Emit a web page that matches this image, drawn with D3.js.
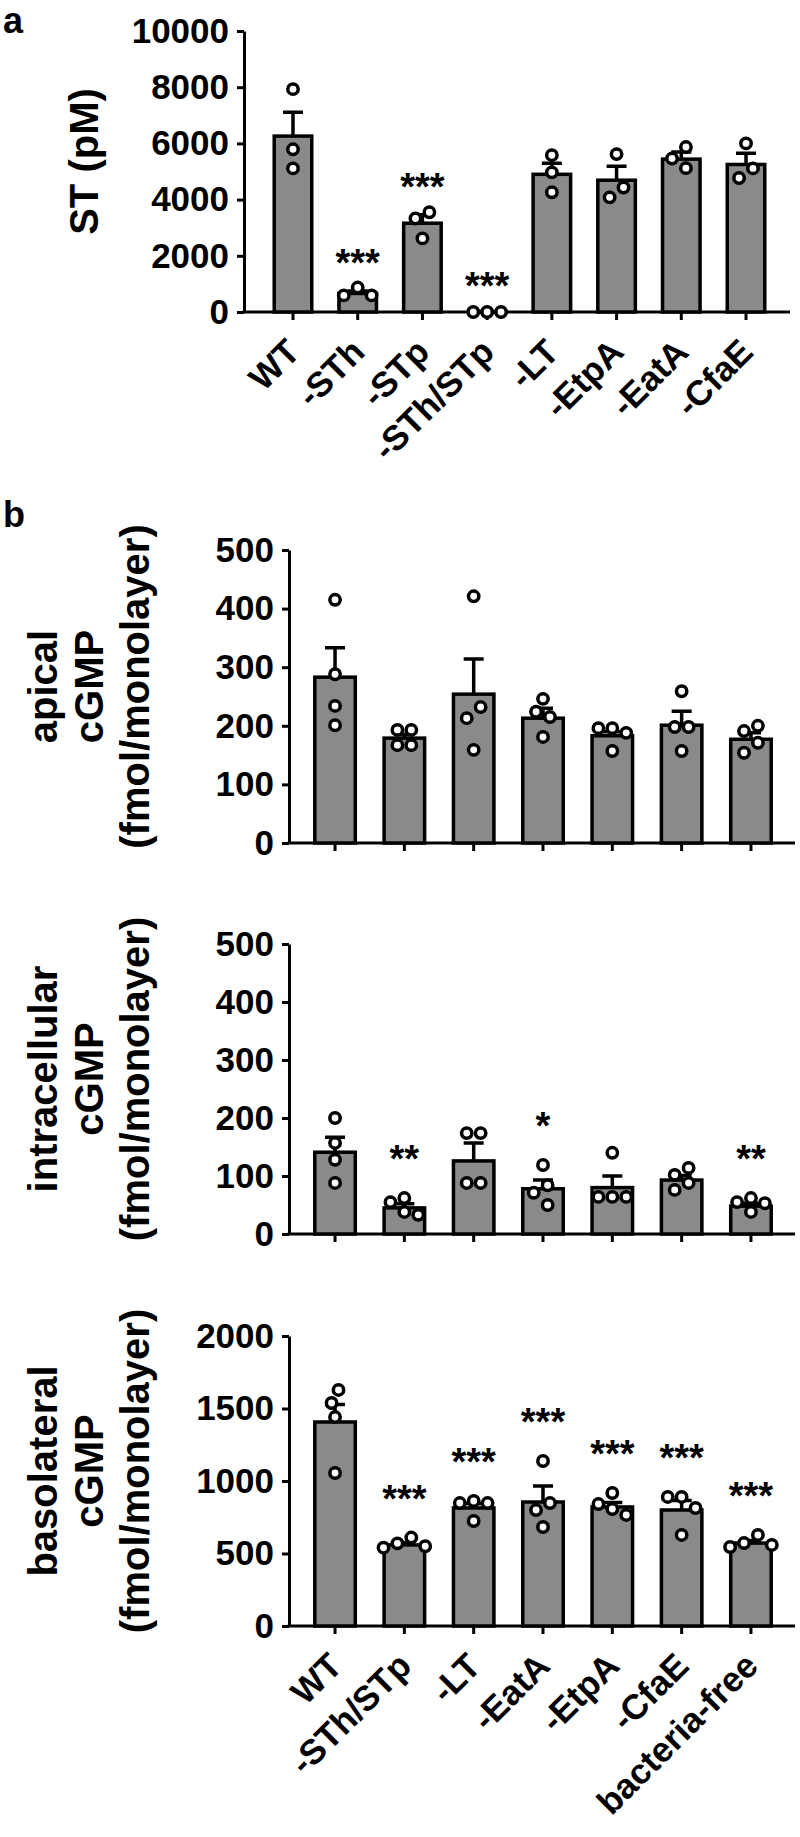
<!DOCTYPE html>
<html>
<head>
<meta charset="utf-8">
<script src="https://cdn.jsdelivr.net/npm/d3@7"></script>
<style>
  body { margin: 0; background: #fff; }
  svg { display: block; font-family: "Liberation Sans", Arial, sans-serif; font-weight: bold; }
</style>
</head>
<body>
<script>
// ---------- panel a: ST (pM) ----------
const catsA = ["WT", "-STh", "-STp", "-STh/STp", "-LT", "-EtpA", "-EatA", "-CfaE"];
const meansA = [6260, 660, 3160, 15, 4900, 4690, 5440, 5250];
const semA = [850, 90, 300, 5, 390, 500, 250, 400];
const pointsA = [
  [7930, 5790, 5110],
  [870, 590, 590],
  [3550, 3330, 2620],
  [0, 0, 0],
  [5580, 4970, 4260],
  [5620, 4430, 4080],
  [5870, 5460, 5120],
  [6000, 5110, 4770]
];
const starsA = ["", "***", "***", "***", "", "", "", ""];
const ticksA = [0, 2000, 4000, 6000, 8000, 10000];

// ---------- panel b: cGMP ----------
const catsB = ["WT", "-STh/STp", "-LT", "-EatA", "-EtpA", "-CfaE", "bacteria-free"];

const apicalMeans = [283, 179, 254, 213, 183, 201, 177];
const apicalSem = [50, 6, 60, 17, 7, 24, 11];
const apicalPoints = [
  [415, 288, 234, 201],
  [193, 193, 167, 167],
  [421, 232, 213, 159],
  [246, 224, 215, 181],
  [196, 196, 188, 157],
  [259, 198, 198, 157],
  [200, 191, 171, 154]
];
const apicalStars = ["", "", "", "", "", "", ""];

const intraMeans = [141, 45, 126, 78, 80, 93, 48];
const intraSem = [26, 7, 31, 15, 20, 8, 5];
const intraPoints = [
  [200, 157, 128, 88],
  [62, 55, 38, 33],
  [174, 174, 88, 88],
  [119, 84, 71, 50],
  [140, 64, 64, 64],
  [114, 102, 88, 76],
  [62, 55, 53, 38]
];
const intraStars = ["", "**", "", "*", "", "", "**"];

const basoMeans = [1407, 559, 814, 855, 821, 800, 572];
const basoSem = [120, 15, 30, 110, 30, 65, 18];
const basoPoints = [
  [1628, 1538, 1441, 1055],
  [610, 570, 550, 540],
  [862, 848, 848, 724],
  [1138, 848, 800, 683],
  [917, 841, 807, 766],
  [890, 890, 814, 628],
  [628, 572, 559, 545]
];
const basoStars = ["", "***", "***", "***", "***", "***", "***"];

const ticksCgmp = [0, 100, 200, 300, 400, 500];
const ticksBaso = [0, 500, 1000, 1500, 2000];

const W = 800, H = 1837;
const barFill = "#8a8a8a";

const svg = d3.select("body").append("svg")
  .attr("width", W)
  .attr("height", H);

svg.append("rect").attr("width", W).attr("height", H).attr("fill", "#fff");

/* spread overlapping points sideways, then center each cluster */
function swarm(vals, y, r) {
  const minD = 2 * r + 3.5;
  const step = minD / 2;
  const order = vals.map((v, i) => i).sort((a, b) => vals[b] - vals[a]);
  const placed = [];
  order.forEach(i => {
    const py = y(vals[i]);
    for (const k of [0, -1, 1, -2, 2, -3, 3, -4, 4]) {
      const px = k * step;
      if (placed.every(p => Math.hypot(p.dx - px, p.y - py) >= minD)) {
        placed.push({ dx: px, y: py });
        break;
      }
    }
  });
  placed.sort((a, b) => a.y - b.y);
  let group = [];
  const flush = () => {
    const m = d3.mean(group, p => p.dx);
    group.forEach(p => p.dx -= m);
    group = [];
  };
  placed.forEach((p, j) => {
    if (j > 0 && p.y - placed[j - 1].y >= minD) flush();
    group.push(p);
  });
  flush();
  return placed;
}

function drawChart(c) {
  const g = svg.append("g");
  const y = d3.scaleLinear().domain([0, c.max]).range([c.bottom, c.top]);
  const x = d3.scaleBand().domain(c.cats).range([c.bandStart, c.bandEnd])
    .paddingInner(c.pi).paddingOuter(0.3);
  const bw = x.bandwidth();

  // y axis
  const ya = g.append("g")
    .attr("transform", `translate(${c.axisX},0)`)
    .call(d3.axisLeft(y).tickValues(c.ticks).tickSize(7).tickPadding(8)
      .tickSizeOuter(0).tickFormat(d3.format("d")));
  ya.select(".domain").attr("stroke", "#000").attr("stroke-width", 3);
  ya.selectAll(".tick line").attr("stroke", "#000").attr("stroke-width", 3);
  ya.selectAll(".tick text")
    .attr("fill", "#000")
    .style("font-size", "35px")
    .style("font-family", "'Liberation Sans', Arial, sans-serif")
    .style("font-weight", "bold");

  // x axis
  const xa = g.append("g")
    .attr("transform", `translate(0,${c.bottom})`)
    .call(d3.axisBottom(x).tickSize(8).tickSizeOuter(0));
  xa.select(".domain").remove();
  xa.selectAll(".tick line").attr("stroke", "#000").attr("stroke-width", 3);
  if (c.showNames) {
    xa.selectAll(".tick text")
      .attr("fill", "#000")
      .attr("x", 0).attr("y", 0).attr("dy", 0)
      .attr("text-anchor", "end")
      .attr("transform", "translate(9,42) rotate(-45)")
      .style("font-size", "35px")
      .style("font-family", "'Liberation Sans', Arial, sans-serif")
      .style("font-weight", "bold");
  } else {
    xa.selectAll(".tick text").remove();
  }
  g.append("line")
    .attr("x1", c.axisX - 1.5).attr("x2", c.axisEnd)
    .attr("y1", c.bottom).attr("y2", c.bottom)
    .attr("stroke", "#000").attr("stroke-width", 3);

  // bars
  g.selectAll("rect.bar")
    .data(c.means)
    .enter().append("rect")
    .attr("class", "bar")
    .attr("x", (d, i) => x(c.cats[i]))
    .attr("y", d => y(d))
    .attr("width", bw)
    .attr("height", d => c.bottom - y(d))
    .attr("fill", barFill)
    .attr("stroke", "#000")
    .attr("stroke-width", 3.5);

  // error bars (upper only)
  c.means.forEach((m, i) => {
    const cx = x(c.cats[i]) + bw / 2;
    g.append("path")
      .attr("d", `M${cx},${y(m)}V${y(m + c.sem[i])}M${cx - 10},${y(m + c.sem[i])}H${cx + 10}`)
      .attr("fill", "none")
      .attr("stroke", "#000")
      .attr("stroke-width", 3.5);
  });

  // individual points
  const r = 5.2;
  c.points.forEach((vals, i) => {
    const cx = x(c.cats[i]) + bw / 2;
    g.selectAll(null)
      .data(swarm(vals, y, r))
      .enter().append("circle")
      .attr("cx", d => cx + d.dx)
      .attr("cy", d => d.y)
      .attr("r", r)
      .attr("fill", "#fff")
      .attr("stroke", "#000")
      .attr("stroke-width", 3.5);
  });

  // significance stars
  c.stars.forEach((s, i) => {
    if (!s) return;
    const cx = x(c.cats[i]) + bw / 2;
    const topY = Math.min(y(d3.max(c.points[i])), y(c.means[i] + c.sem[i]));
    g.append("text")
      .attr("x", cx)
      .attr("y", topY - c.starGap + 21)
      .attr("text-anchor", "middle")
      .style("font-size", "38px")
      .text(s);
  });

  // y title
  const mid = (c.top + c.bottom) / 2 - 10;
  c.title.forEach((t, k) => {
    g.append("text")
      .attr("transform", `translate(${c.titleX[k]},${mid}) rotate(-90)`)
      .attr("text-anchor", "middle")
      .style("font-size", "40px")
      .text(t);
  });
}

// panel letters
svg.append("text").attr("x", 3).attr("y", 33).style("font-size", "36px").text("a");
svg.append("text").attr("x", 3).attr("y", 527).style("font-size", "36px").text("b");

drawChart({
  cats: catsA, means: meansA, sem: semA, points: pointsA, stars: starsA,
  ticks: ticksA, max: 10000, top: 31, bottom: 312, showNames: true,
  axisX: 244, axisEnd: 790, bandStart: 254.8, bandEnd: 784.2, pi: 0.42,
  starGap: 33, title: ["ST (pM)"], titleX: [98]
});

const bLayout = { axisX: 289, axisEnd: 795, bandStart: 294, bandEnd: 792, pi: 0.416,
  starGap: 47, titleX: [57, 103, 149] };

drawChart(Object.assign({
  cats: catsB, means: apicalMeans, sem: apicalSem, points: apicalPoints, stars: apicalStars,
  ticks: ticksCgmp, max: 500, top: 550, bottom: 843, showNames: false,
  title: ["apical", "cGMP", "(fmol/monolayer)"]
}, bLayout));

drawChart(Object.assign({
  cats: catsB, means: intraMeans, sem: intraSem, points: intraPoints, stars: intraStars,
  ticks: ticksCgmp, max: 500, top: 944, bottom: 1234, showNames: false,
  title: ["intracellular", "cGMP", "(fmol/monolayer)"]
}, bLayout));

drawChart(Object.assign({
  cats: catsB, means: basoMeans, sem: basoSem, points: basoPoints, stars: basoStars,
  ticks: ticksBaso, max: 2000, top: 1336, bottom: 1626, showNames: true,
  title: ["basolateral", "cGMP", "(fmol/monolayer)"]
}, bLayout));
</script>
</body>
</html>
